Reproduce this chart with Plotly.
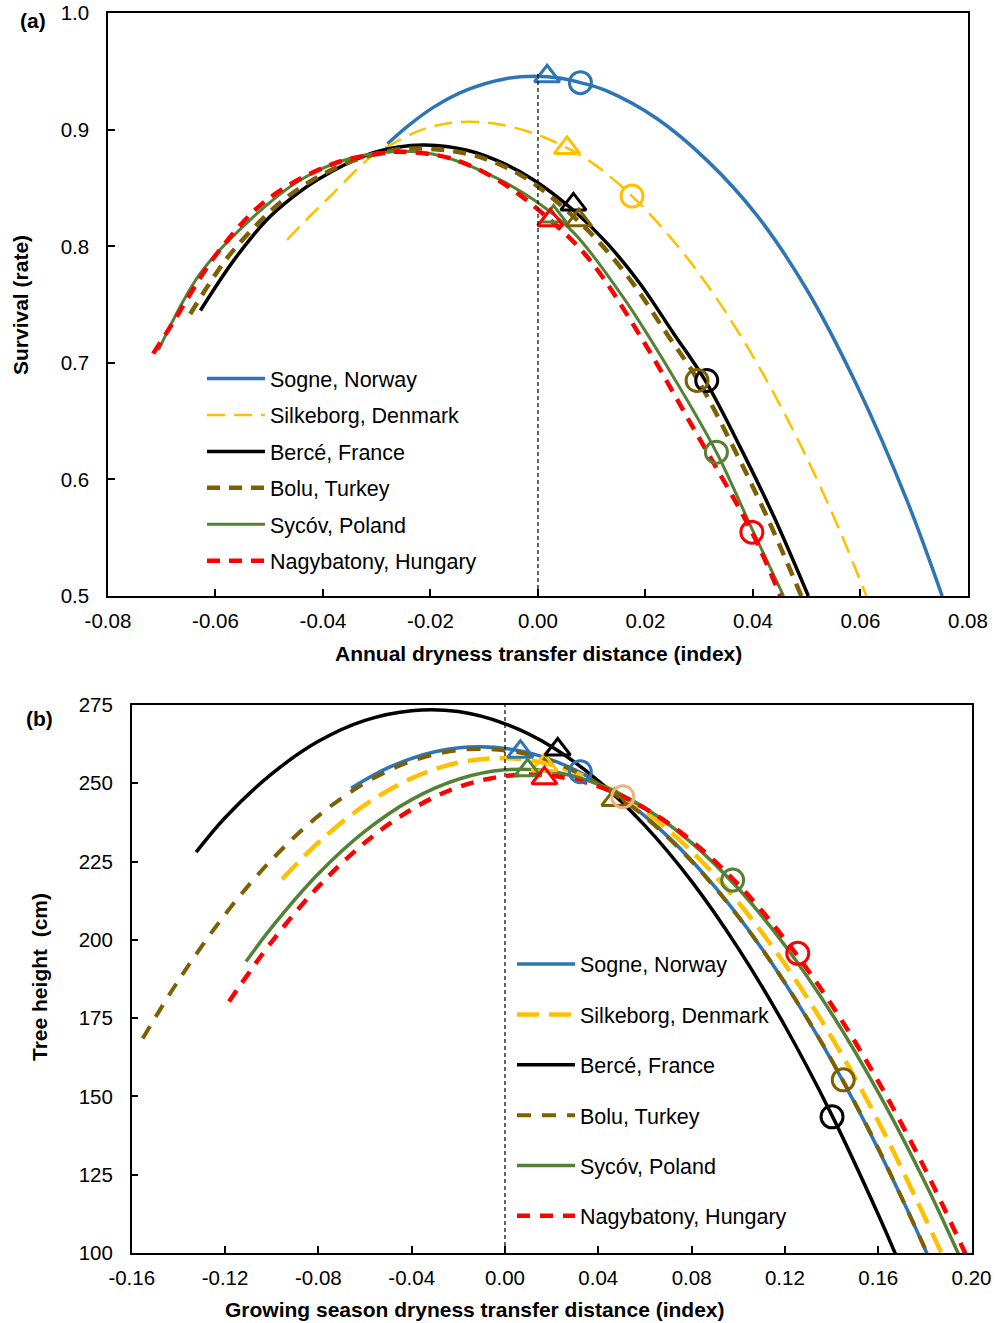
import plotly.graph_objects as go

FONT = "Liberation Sans, Arial, sans-serif"

names = ["Sogne, Norway", "Silkeborg, Denmark", "Bercé, France",
         "Bolu, Turkey", "Sycóv, Poland", "Nagybatony, Hungary"]
colors = ["#2E75B6", "#FFC000", "#000000", "#7F6000", "#548235", "#FF0000"]

# ---------------- (a) Survival vs annual dryness transfer distance ----------------
a_sogne_x = [-0.028, -0.024, -0.0194, -0.0132, -0.006, -0.0007, 0.004, 0.0079, 0.0128, 0.0221, 0.0314, 0.0407, 0.05, 0.0593, 0.0687, 0.0752]
a_sogne_y = [0.888, 0.904, 0.9195, 0.9343, 0.9439, 0.946, 0.9445, 0.9405, 0.9334, 0.9097, 0.874, 0.8268, 0.763, 0.681, 0.5814, 0.500]

a_silk_x = [-0.0467, -0.042, -0.038, -0.0318, -0.028, -0.0225, -0.018, -0.013, -0.0075, -0.0008, 0.0054, 0.0103, 0.0175, 0.0252, 0.0314, 0.0376, 0.0438, 0.05, 0.0562, 0.0611]
a_silk_y = [0.8056, 0.828, 0.846, 0.874, 0.8856, 0.8985, 0.9046, 0.907, 0.905, 0.897, 0.8845, 0.871, 0.8432, 0.8047, 0.7675, 0.7241, 0.6745, 0.6187, 0.5555, 0.500]

a_berce_x = [-0.0628, -0.0566, -0.0504, -0.0457, -0.0411, -0.0318, -0.0262, -0.021, -0.0132, -0.0065, -0.0008, 0.0066, 0.0128, 0.019, 0.0252, 0.0311, 0.0376, 0.0438, 0.0503]
a_berce_y = [0.745, 0.788, 0.823, 0.842, 0.857, 0.8785, 0.885, 0.887, 0.8825, 0.8714, 0.857, 0.831, 0.803, 0.768, 0.7255, 0.685, 0.628, 0.569, 0.500]

a_bolu_x = [-0.0647, -0.06, -0.0566, -0.0473, -0.038, -0.0287, -0.022, -0.0132, -0.0065, -0.0008, 0.0053, 0.0115, 0.0177, 0.0239, 0.0298, 0.0363, 0.0425, 0.049]
a_bolu_y = [0.742, 0.776, 0.797, 0.840, 0.8666, 0.881, 0.884, 0.8795, 0.869, 0.854, 0.831, 0.803, 0.768, 0.7255, 0.685, 0.628, 0.569, 0.500]

a_sycow_x = [-0.0706, -0.0628, -0.0535, -0.0442, -0.0349, -0.026, -0.0194, -0.0101, -0.0008, 0.0066, 0.0159, 0.0252, 0.0332, 0.0401, 0.0457]
a_sycow_y = [0.711, 0.777, 0.823, 0.857, 0.8756, 0.8815, 0.879, 0.864, 0.840, 0.812, 0.756, 0.688, 0.6234, 0.5548, 0.500]

a_nagy_x = [-0.0716, -0.0684, -0.0597, -0.0504, -0.038, -0.0287, -0.0255, -0.0163, -0.007, 0.0023, 0.0097, 0.019, 0.0283, 0.0398, 0.0451]
a_nagy_y = [0.708, 0.731, 0.794, 0.840, 0.871, 0.880, 0.8812, 0.8756, 0.8556, 0.8225, 0.788, 0.7233, 0.649, 0.5548, 0.500]

a_tri_x = [0.0017, 0.0054, 0.0066, 0.0076, 0.0029, 0.0023]
a_tri_y = [0.946, 0.8845, 0.836, 0.8225, 0.8256, 0.8225]
a_circ_x = [0.0079, 0.0175, 0.0314, 0.0296, 0.0332, 0.0398]
a_circ_y = [0.9405, 0.8432, 0.6849, 0.6849, 0.6234, 0.5548]
a_marker_colors = ["#2E75B6", "#FFC000", "#000000", "#7F6000", "#548235", "#FF0000"]

a_xticks = [-0.08, -0.06, -0.04, -0.02, 0.0, 0.02, 0.04, 0.06, 0.08]
a_xticktext = ["-0.08", "-0.06", "-0.04", "-0.02", "0.00", "0.02", "0.04", "0.06", "0.08"]
a_yticks = [0.5, 0.6, 0.7, 0.8, 0.9, 1.0]
a_yticktext = ["0.5", "0.6", "0.7", "0.8", "0.9", "1.0"]

# ---------------- (b) Tree height vs growing season dryness transfer distance ----------------
b_sogne_x = [-0.066, -0.05, -0.03, -0.011, 0.01, 0.03, 0.05, 0.07, 0.09, 0.11, 0.13, 0.15, 0.17, 0.1812]
b_sogne_y = [248.4, 255.0, 260.1, 261.7, 259.8, 254.3, 245.3, 232.9, 216.9, 197.3, 174.3, 147.8, 117.7, 99.3]

b_silk_x = [-0.0955, -0.08, -0.06, -0.04, -0.02, 0.0, 0.02, 0.04, 0.06, 0.08, 0.10, 0.12, 0.14, 0.16, 0.1876]
b_silk_y = [219.4, 231.1, 243.1, 251.6, 256.6, 258.0, 255.9, 250.2, 241.0, 228.3, 212.0, 192.2, 168.9, 142.1, 99.2]

b_berce_x = [-0.1324, -0.12, -0.10, -0.08, -0.06, -0.04, -0.02, 0.0, 0.02, 0.04, 0.06, 0.08, 0.10, 0.12, 0.14, 0.16, 0.1676]
b_berce_y = [228.0, 239.0, 253.0, 263.4, 270.1, 273.2, 272.9, 269.0, 261.7, 250.8, 236.5, 218.7, 197.3, 172.5, 144.2, 112.3, 99.3]

b_bolu_x = [-0.1553, -0.14, -0.12, -0.10, -0.08, -0.06, -0.04, -0.02, 0.0, 0.02, 0.047, 0.07, 0.09, 0.11, 0.13, 0.145, 0.16, 0.1815]
b_bolu_y = [168.5, 187.0, 208.1, 225.6, 239.6, 250.1, 257.1, 260.6, 260.5, 257.0, 246.6, 232.6, 216.7, 197.3, 174.4, 154.9, 133.4, 99.1]

b_sycow_x = [-0.111, -0.10, -0.08, -0.06, -0.04, -0.02, 0.0, 0.02, 0.04, 0.06, 0.08, 0.10, 0.12, 0.14, 0.16, 0.18, 0.1947]
b_sycow_y = [193.1, 204.0, 221.1, 234.7, 244.8, 251.3, 254.3, 253.8, 249.7, 242.1, 231.0, 216.4, 198.2, 176.5, 151.3, 122.6, 99.2]

b_nagy_x = [-0.1183, -0.10, -0.08, -0.06, -0.04, -0.02, 0.0, 0.02, 0.04, 0.06, 0.08, 0.10, 0.12, 0.14, 0.16, 0.18, 0.1976]
b_nagy_y = [180.3, 199.4, 217.0, 231.1, 241.7, 248.8, 252.3, 252.4, 249.0, 242.0, 231.6, 217.7, 200.2, 179.3, 154.8, 126.9, 99.4]

b_tri_x = [0.0066, 0.0169, 0.0226, 0.0469, 0.0097, 0.0169]
b_tri_y = [260.1, 255.8, 260.8, 244.7, 254.2, 251.6]
b_tri_colors = ["#2E75B6", "#FFC000", "#000000", "#7F6000", "#548235", "#FF0000"]
b_circ_x = [0.0323, 0.0505, 0.1402, 0.145, 0.0976, 0.1255]
b_circ_y = [253.7, 245.7, 143.5, 155.3, 219.1, 195.7]
b_circ_colors = ["#2E75B6", "#F4B183", "#000000", "#7F6000", "#548235", "#FF0000"]

b_xticks = [-0.16, -0.12, -0.08, -0.04, 0.0, 0.04, 0.08, 0.12, 0.16, 0.20]
b_xticktext = ["-0.16", "-0.12", "-0.08", "-0.04", "0.00", "0.04", "0.08", "0.12", "0.16", "0.20"]
b_yticks = [100, 125, 150, 175, 200, 225, 250, 275]
b_yticktext = ["100", "125", "150", "175", "200", "225", "250", "275"]

a_series = [(a_sogne_x, a_sogne_y), (a_silk_x, a_silk_y), (a_berce_x, a_berce_y),
            (a_bolu_x, a_bolu_y), (a_sycow_x, a_sycow_y), (a_nagy_x, a_nagy_y)]
b_series = [(b_sogne_x, b_sogne_y), (b_silk_x, b_silk_y), (b_berce_x, b_berce_y),
            (b_bolu_x, b_bolu_y), (b_sycow_x, b_sycow_y), (b_nagy_x, b_nagy_y)]

a_styles = [dict(width=3.5, dash="solid"), dict(width=2.5, dash="18px,9px"),
            dict(width=3.5, dash="solid"), dict(width=4.5, dash="13px,9px"),
            dict(width=3, dash="solid"), dict(width=4.5, dash="13px,9px")]
b_styles = [dict(width=3.5, dash="solid"), dict(width=4.5, dash="22px,10px"),
            dict(width=3.5, dash="solid"), dict(width=4, dash="14px,11px"),
            dict(width=3.5, dash="solid"), dict(width=4.5, dash="13px,10px")]

fig = go.Figure()

for i, ((xs, ys), st) in enumerate(zip(a_series, a_styles)):
    fig.add_trace(go.Scatter(x=xs, y=ys, mode="lines", name=names[i],
                             line=dict(color=colors[i], shape="spline", smoothing=1.0, **st),
                             xaxis="x", yaxis="y", legend="legend", legendgroup="a%d" % i))
fig.add_trace(go.Scatter(x=a_tri_x, y=a_tri_y, mode="markers", showlegend=False,
                         marker=dict(symbol="triangle-up-open", size=22, color=a_marker_colors,
                                     line=dict(width=3)),
                         xaxis="x", yaxis="y"))
fig.add_trace(go.Scatter(x=a_circ_x, y=a_circ_y, mode="markers", showlegend=False,
                         marker=dict(symbol="circle-open", size=22, color=a_marker_colors,
                                     line=dict(width=3)),
                         xaxis="x", yaxis="y"))

for i, ((xs, ys), st) in enumerate(zip(b_series, b_styles)):
    fig.add_trace(go.Scatter(x=xs, y=ys, mode="lines", name=names[i],
                             line=dict(color=colors[i], shape="spline", smoothing=1.0, **st),
                             xaxis="x2", yaxis="y2", legend="legend2", legendgroup="b%d" % i))
fig.add_trace(go.Scatter(x=b_tri_x, y=b_tri_y, mode="markers", showlegend=False,
                         marker=dict(symbol="triangle-up-open", size=22, color=b_tri_colors,
                                     line=dict(width=3)),
                         xaxis="x2", yaxis="y2"))
fig.add_trace(go.Scatter(x=b_circ_x, y=b_circ_y, mode="markers", showlegend=False,
                         marker=dict(symbol="circle-open", size=22, color=b_circ_colors,
                                     line=dict(width=3)),
                         xaxis="x2", yaxis="y2"))

axis_common = dict(showgrid=False, zeroline=False, showline=True, linecolor="#000000",
                   linewidth=1.5, mirror=True, ticks="inside", ticklen=7, tickwidth=1.5,
                   tickcolor="#000000", tickfont=dict(family=FONT, size=20.5, color="#000000"),
                   automargin=False, ticklabeloverflow="allow")

title_font = dict(family=FONT, size=21, color="#000000")


def label(text, x, y, angle=0):
    return dict(text=text, x=x, y=y, xref="paper", yref="paper", showarrow=False,
                xanchor="center", yanchor="middle", textangle=angle, font=title_font)


fig.update_layout(
    width=998, height=1323,
    margin=dict(l=0, r=0, t=0, b=0, autoexpand=False),
    paper_bgcolor="white", plot_bgcolor="white",
    font=dict(family=FONT, color="#000000"),
    xaxis=dict(domain=[0.1082, 0.9699], anchor="y", range=[-0.08, 0.08],
               tickvals=a_xticks, ticktext=a_xticktext, ticklabelstandoff=6, **axis_common),
    yaxis=dict(domain=[0.5495, 0.98995], anchor="x", range=[0.5, 1.0],
               tickvals=a_yticks, ticktext=a_yticktext, ticklabelstandoff=13, **axis_common),
    xaxis2=dict(domain=[0.132, 0.9735], anchor="y2", range=[-0.16, 0.20],
                tickvals=b_xticks, ticktext=b_xticktext, ticklabelstandoff=6, **axis_common),
    yaxis2=dict(domain=[0.0529, 0.4671], anchor="x2", range=[100, 275],
                tickvals=b_yticks, ticktext=b_yticktext, ticklabelstandoff=13, **axis_common),
    legend=dict(x=0.2024, y=0.7294, xanchor="left", yanchor="top",
                bgcolor="rgba(0,0,0,0)", font=dict(family=FONT, size=21.5, color="#000000"),
                traceorder="grouped", tracegroupgap=5.5, itemwidth=58),
    legend2=dict(x=0.51303, y=0.28677, xanchor="left", yanchor="top",
                 bgcolor="rgba(0,0,0,0)", font=dict(family=FONT, size=21.5, color="#000000"),
                 traceorder="grouped", tracegroupgap=19.4, itemwidth=58),
    shapes=[
        dict(type="line", xref="x", yref="y", x0=0, x1=0, y0=0.5, y1=0.95,
             line=dict(color="#000000", width=1.2, dash="4px,3px")),
        dict(type="line", xref="x2", yref="y2", x0=0, x1=0, y0=100, y1=275,
             line=dict(color="#000000", width=1.2, dash="4px,3px")),
    ],
    annotations=[
        label("<b>(a)</b>", 0.0331, 0.98413),
        label("<b>(b)</b>", 0.04008, 0.45729),
        label("<b>Annual dryness transfer distance (index)</b>", 0.53908, 0.50567),
        label("<b>Growing season dryness transfer distance (index)</b>", 0.47595, 0.01058),
        label("<b>Survival (rate)</b>", 0.02004, 0.76946, -90),
        label("<b>Tree height\u00a0 (cm)</b>", 0.04008, 0.26153, -90),
    ],
)

# remove the default 8 px page margin so the 998 x 1323 figure fills the window
fig.write_html("out.html",
               config={"displayModeBar": False, "displaylogo": False},
               post_script="document.body.style.margin='0px';document.body.style.overflow='hidden';")
